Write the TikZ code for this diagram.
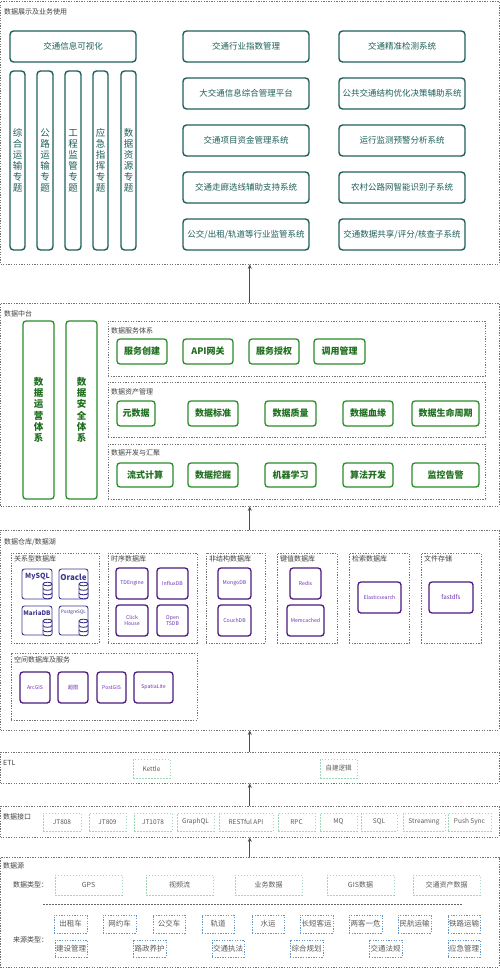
\documentclass[tikz,border=0pt]{standalone}
\usepackage{fontspec}
\setmainfont{Noto Sans CJK SC}
\usetikzlibrary{arrows.meta}
\definecolor{teal1}{RGB}{30,95,90}
\definecolor{grn}{RGB}{40,140,40}
\definecolor{grntxt}{RGB}{30,110,30}
\definecolor{purp}{RGB}{75,25,125}
\definecolor{purptxt}{RGB}{110,50,180}
\definecolor{navy1}{RGB}{60,55,140}
\definecolor{lgrn}{RGB}{160,215,185}
\definecolor{lblue}{RGB}{100,150,200}
\definecolor{secc}{RGB}{115,115,115}
\newcommand\bx[7]{\node[#1, minimum width={(#5)-(#3)}, minimum height={(#6)-(#4)}] (#2) at ({((#3)+(#5))/2},{((#4)+(#6))/2}) {#7};}
\newcommand\vsix[7]{\vbox{\baselineskip=#1pt\lineskiplimit=-20pt\relax\hbox{#2}\hbox{#3}\hbox{#4}\hbox{#5}\hbox{#6}\hbox{#7}}}
\newcommand\dbcyl[2]{%
 \filldraw[fill=white, draw=navy1, line width=0.9pt] ({#1-4.5},{#2}) -- ({#1-4.5},{#2+13}) .. controls ({#1-4.5},{#2+15.4}) and ({#1+4.5},{#2+15.4}) .. ({#1+4.5},{#2+13}) -- ({#1+4.5},{#2}) .. controls ({#1+4.5},{#2-2.4}) and ({#1-4.5},{#2-2.4}) .. ({#1-4.5},{#2}) -- cycle;
 \draw[navy1, line width=0.9pt] ({#1-4.5},{#2}) .. controls ({#1-4.5},{#2+2.4}) and ({#1+4.5},{#2+2.4}) .. ({#1+4.5},{#2});
 \draw[navy1, line width=0.9pt] ({#1-4.5},{#2+4.5}) .. controls ({#1-4.5},{#2+6.9}) and ({#1+4.5},{#2+6.9}) .. ({#1+4.5},{#2+4.5});
 \draw[navy1, line width=0.9pt] ({#1-4.5},{#2+9}) .. controls ({#1-4.5},{#2+11.4}) and ({#1+4.5},{#2+11.4}) .. ({#1+4.5},{#2+9});}
\tikzset{
 sect/.style={draw=secc, line width=0.8pt, dash pattern=on 1.3pt off 1.3pt},
 seclabel/.style={anchor=west, font=\fontsize{7}{8}\selectfont, text=black!75, inner sep=0},
 tbox/.style={draw=teal1, line width=1.4pt, rounded corners=3.5pt, text=teal1, font=\fontsize{8.5}{10}\selectfont, inner sep=0},
 tvbox/.style={tbox, font=\fontsize{9.5}{11}\selectfont},
 gbox/.style={draw=grn, line width=1.3pt, rounded corners=3pt, text=grntxt, font=\bfseries\fontsize{9}{10}\selectfont, inner sep=0},
 gvbox/.style={gbox, font=\bfseries\fontsize{9.5}{11.3}\selectfont},
 pbox/.style={draw=purp, line width=1.3pt, rounded corners=3pt, text=purptxt, font=\fontsize{5.2}{6}\selectfont, align=center, inner sep=0},
 dbbox/.style={draw=navy1, line width=0.9pt, rounded corners=2.5pt, inner sep=0},
 dbtxt/.style={text=navy1, font=\bfseries\fontsize{7}{8}\selectfont, inner sep=0},
 ibox/.style={draw=lgrn, line width=0.7pt, dash pattern=on 1.5pt off 1.5pt, text=black!65, font=\fontsize{6.5}{8}\selectfont, inner sep=0},
 sbox/.style={draw=lblue, line width=0.7pt, dash pattern=on 1.3pt off 1.3pt, text=black!65, font=\fontsize{7.5}{9}\selectfont, inner sep=0},
 arr/.style={-{Stealth[length=4.5pt,width=4pt]}, draw=black!70, line width=0.8pt},
}
\begin{document}
\begin{tikzpicture}[x=1pt,y=-1pt]
\useasboundingbox (0,0) rectangle (500,968);
% ---------- Section 1
\bx{sect}{s1}{0.5}{1}{499}{264}{}
\node[seclabel] (s1l) at (4,12) {数据展示及业务使用};
\bx{tbox}{v1}{10}{31}{136}{62}{交通信息可视化}
\bx{tvbox}{c1}{10}{71}{25}{250}{\vsix{11}{综}{合}{运}{输}{专}{题}}
\bx{tvbox}{c2}{37}{71}{53}{250}{\vsix{11}{公}{路}{运}{输}{专}{题}}
\bx{tvbox}{c3}{65}{71}{81}{250}{\vsix{11}{工}{程}{监}{管}{专}{题}}
\bx{tvbox}{c4}{93}{71}{108}{250}{\vsix{11}{应}{急}{指}{挥}{专}{题}}
\bx{tvbox}{c5}{121}{71}{136}{250}{\vsix{11}{数}{据}{资}{源}{专}{题}}
\bx{tbox}{m1}{183}{31}{309}{62}{交通行业指数管理}
\bx{tbox}{m2}{183}{78}{309}{109}{大交通信息综合管理平台}
\bx{tbox}{m3}{183}{125}{309}{156}{交通项目资金管理系统}
\bx{tbox}{m4}{183}{172}{309}{203}{交通走廊选线辅助支持系统}
\bx{tbox}{m5}{183}{219}{309}{250}{公交/出租/轨道等行业监管系统}
\bx{tbox}{r1}{339}{31}{465}{62}{交通精准检测系统}
\bx{tbox}{r2}{339}{78}{465}{109}{公共交通结构优化决策辅助系统}
\bx{tbox}{r3}{339}{125}{465}{156}{运行监测预警分析系统}
\bx{tbox}{r4}{339}{172}{465}{203}{农村公路网智能识别子系统}
\bx{tbox}{r5}{339}{219}{465}{250}{交通数据共享/评分/核查子系统}
% ---------- Section 2
\bx{sect}{s2}{0.5}{303}{499}{506}{}
\node[seclabel] (s2l) at (4,314) {数据中台};
\bx{gvbox}{gv1}{23}{321}{54}{499}{\vsix{11.3}{数}{据}{运}{营}{体}{系}}
\bx{gvbox}{gv2}{66}{321}{97}{499}{\vsix{11.3}{数}{据}{安}{全}{体}{系}}
\bx{sect}{s2a}{108}{321}{485}{376}{}
\node[seclabel] (s2al) at (111,331) {数据服务体系};
\bx{sect}{s2b}{108}{382}{485}{437}{}
\node[seclabel] (s2bl) at (111,392) {数据资产管理};
\bx{sect}{s2c}{108}{444}{485}{499}{}
\node[seclabel] (s2cl) at (111,453) {数据开发与汇聚};
\bx{gbox}{ga1}{117}{339}{167}{364}{服务创建}
\bx{gbox}{ga2}{183}{339}{233}{364}{API网关}
\bx{gbox}{ga3}{249}{339}{299}{364}{服务授权}
\bx{gbox}{ga4}{314}{339}{365}{364}{调用管理}
\bx{gbox}{gb1}{117}{401}{155}{426}{元数据}
\bx{gbox}{gb2}{188}{401}{238}{426}{数据标准}
\bx{gbox}{gb3}{265}{401}{316}{426}{数据质量}
\bx{gbox}{gb4}{343}{401}{393}{426}{数据血缘}
\bx{gbox}{gb5}{412}{401}{479}{426}{数据生命周期}
\bx{gbox}{gc1}{117}{463}{173}{487}{流式计算}
\bx{gbox}{gc2}{188}{463}{238}{487}{数据挖掘}
\bx{gbox}{gc3}{265}{463}{316}{487}{机器学习}
\bx{gbox}{gc4}{343}{463}{393}{487}{算法开发}
\bx{gbox}{gc5}{412}{463}{479}{487}{监控告警}
% ---------- Section 3
\bx{sect}{s3}{0.5}{530}{499}{730}{}
\node[seclabel] (s3l) at (4,542) {数据仓库/数据湖};
\bx{sect}{g1}{11}{553}{99}{643}{}
\node[seclabel] (g1l) at (14,559) {关系型数据库};
\bx{sect}{g2}{108}{553}{197}{643}{}
\node[seclabel] (g2l) at (111,559) {时序数据库};
\bx{sect}{g3}{206}{553}{265}{643}{}
\node[seclabel] (g3l) at (209,559) {非结构数据库};
\bx{sect}{g4}{277}{553}{337}{643}{}
\node[seclabel] (g4l) at (280,559) {键值数据库};
\bx{sect}{g5}{349}{553}{409}{643}{}
\node[seclabel] (g5l) at (352,559) {检索数据库};
\bx{sect}{g6}{421}{553}{481}{643}{}
\node[seclabel] (g6l) at (424,559) {文件存储};
\bx{sect}{g7}{11}{653}{197}{720}{}
\node[seclabel] (g7l) at (14,660) {空间数据库及服务};
% relational
\bx{dbbox}{db1}{22}{569}{52}{599}{}
\bx{dbbox}{db2}{59}{569}{88}{599}{}
\bx{dbbox}{db3}{22}{606}{52}{635}{}
\bx{dbbox}{db4}{59}{606}{88}{635}{}
\dbcyl{47.5}{584}
\dbcyl{83.5}{584}
\dbcyl{47.5}{621}
\dbcyl{83.5}{621}
\node[dbtxt] (db1t) at (37.5,577) {MySQL};
\node[dbtxt, font=\bfseries\fontsize{8}{9}\selectfont] (db2t) at (73.5,577) {Oracle};
\node[dbtxt, font=\bfseries\fontsize{6.3}{7}\selectfont] (db3t) at (37,613) {MariaDB};
\node[dbtxt, font=\fontsize{4.6}{5}\selectfont] (db4t) at (73.5,612) {PostgreSQL};
% time series etc.
\bx{pbox}{p1}{116}{568}{148}{599}{TDEngine}
\bx{pbox}{p2}{157}{568}{188}{599}{InfluxDB}
\bx{pbox}{p3}{116}{605}{148}{636}{Click\\House}
\bx{pbox}{p4}{157}{605}{188}{636}{Open\\TSDB}
\bx{pbox}{p5}{218}{568}{251}{599}{MongoDB}
\bx{pbox}{p6}{218}{605}{251}{636}{CouchDB}
\bx{pbox}{p7}{290}{568}{321}{599}{Redis}
\bx{pbox}{p8}{287}{605}{324}{636}{Memcached}
\bx{pbox}{p9}{358}{582}{401}{613}{Elasticsearch}
\bx{pbox, font=\fontsize{6.2}{7}\selectfont}{p10}{429}{582}{473}{613}{fastdfs}
\bx{pbox}{p11}{20}{672}{50}{703}{ArcGIS}
\bx{pbox}{p12}{58}{672}{88}{703}{超图}
\bx{pbox}{p13}{97}{672}{126}{703}{PostGIS}
\bx{pbox}{p14}{134}{672}{173}{703}{SpatiaLite}
% ---------- ETL
\bx{sect}{s4}{0.5}{752}{499}{783}{}
\node[seclabel] (s4l) at (3,763) {ETL};
\bx{ibox}{e1}{133}{759}{170}{778}{Kettle}
\bx{ibox}{e2}{320}{759}{357}{778}{自建逻辑}
% ---------- Interfaces
\bx{sect}{s5}{0.5}{806}{499}{837}{}
\node[seclabel] (s5l) at (3,817) {数据接口};
\bx{ibox}{i1}{43}{813}{81}{831}{JT808}
\bx{ibox}{i2}{89}{813}{126}{831}{JT809}
\bx{ibox}{i3}{134}{813}{172}{831}{JT1078}
\bx{ibox}{i4}{177}{813}{214}{831}{GraphQL}
\bx{ibox}{i5}{219}{813}{273}{831}{RESTful API}
\bx{ibox}{i6}{278}{813}{315}{831}{RPC}
\bx{ibox}{i7}{320}{813}{357}{831}{MQ}
\bx{ibox}{i8}{361}{813}{397}{831}{SQL}
\bx{ibox}{i9}{403}{813}{445}{831}{Streaming}
\bx{ibox}{i10}{448}{813}{491}{831}{Push Sync}
% ---------- Sources
\bx{sect}{s6}{0.5}{857}{499}{967}{}
\node[seclabel] (s6l) at (3,866) {数据源};
\node[seclabel] (dtl) at (13,885) {数据类型：};
\bx{ibox, font=\fontsize{7}{8}\selectfont}{d1}{55}{875}{122}{895}{GPS}
\bx{ibox, font=\fontsize{7}{8}\selectfont}{d2}{146}{875}{213}{895}{视频流}
\bx{ibox, font=\fontsize{7}{8}\selectfont}{d3}{235}{875}{302}{895}{业务数据}
\bx{ibox, font=\fontsize{7}{8}\selectfont}{d4}{327}{875}{394}{895}{GIS数据}
\bx{ibox, font=\fontsize{7}{8}\selectfont}{d5}{413}{875}{480}{895}{交通资产数据}
\coordinate (sepL) at (43,904);
\coordinate (sepR) at (463,904);
\draw[draw=black!60, line width=1pt, dash pattern=on 1.5pt off 1.5pt] (sepL) -- (sepR);
\node[seclabel] (srl) at (13,940) {来源类型：};
\bx{sbox}{o1}{54}{915}{87}{933}{出租车}
\bx{sbox}{o2}{103}{915}{136}{933}{网约车}
\bx{sbox}{o3}{153}{915}{185}{933}{公交车}
\bx{sbox}{o4}{202}{915}{234}{933}{轨道}
\bx{sbox}{o5}{252}{915}{284}{933}{水运}
\bx{sbox}{o6}{300}{915}{333}{933}{长短客运}
\bx{sbox}{o7}{349}{915}{382}{933}{两客一危}
\bx{sbox}{o8}{398}{915}{431}{933}{民航运输}
\bx{sbox}{o9}{448}{915}{480}{933}{铁路运输}
\bx{sbox}{q1}{55}{940}{87}{957}{建设管理}
\bx{sbox}{q2}{133}{940}{166}{957}{路政养护}
\bx{sbox}{q3}{212}{940}{244}{957}{交通执法}
\bx{sbox}{q4}{290}{940}{323}{957}{综合规划}
\bx{sbox}{q5}{369}{940}{402}{957}{交通法规}
\bx{sbox}{q6}{448}{940}{480}{957}{应急管理}
% ---------- Arrows
\draw[arr] (s2.north) -- (s1.south);
\draw[arr] (s3.north) -- (s2.south);
\draw[arr] (s4.north) -- (s3.south);
\draw[arr] (s5.north) -- (s4.south);
\draw[arr] (s6.north) -- (s5.south);
\end{tikzpicture}
\end{document}
